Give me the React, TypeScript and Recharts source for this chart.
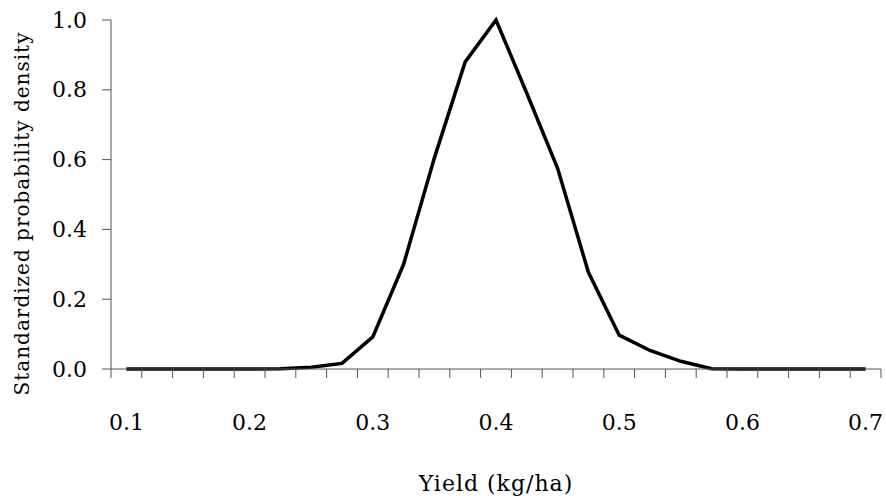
import { LineChart, Line, XAxis, YAxis, Label, ReferenceLine } from 'recharts';

// Yield categories (kg/ha), one every 0.025
const yieldValues = [
  0.1, 0.125, 0.15, 0.175, 0.2, 0.225, 0.25, 0.275, 0.3, 0.325, 0.35, 0.375, 0.4,
  0.425, 0.45, 0.475, 0.5, 0.525, 0.55, 0.575, 0.6, 0.625, 0.65, 0.675, 0.7,
];

// Standardized probability density
const densityValues = [
  0, 0, 0, 0, 0, 0.001, 0.005, 0.016, 0.092, 0.3, 0.605, 0.88, 1.0,
  0.79, 0.575, 0.277, 0.097, 0.053, 0.022, 0.001, 0, 0, 0, 0, 0,
];

const xLabelTicks = [0.1, 0.2, 0.3, 0.4, 0.5, 0.6, 0.7];
const yTicks = [0, 0.2, 0.4, 0.6, 0.8, 1.0];

const HALF_STEP = 0.0125;
// tick marks sit between the categories, like a category axis
const xMinorTicks = [...yieldValues.map(v => v - HALF_STEP), yieldValues[yieldValues.length - 1] + HALF_STEP];
const X_DOMAIN = [xMinorTicks[0], xMinorTicks[xMinorTicks.length - 1]];
// y tick marks stick out ~9px left of the axis (one category is ~30.8px wide)
const Y_TICK_DX = 0.025 * 9 / 30.8;

const data = yieldValues.map((x, i) => ({ x, density: densityValues[i] }));

const FONT = '"DejaVu Serif", serif';
const AXIS = '#555';
const TICK_LEN = 9;
const Y_GAP = 15;

const YTitle = (props: any) => {
  const vb = props.viewBox || {};
  const cx = 22;
  const cy = vb.y + vb.height / 2 + 19;
  return (
    <text
      x={cx}
      y={cy}
      transform={`rotate(-90, ${cx}, ${cy})`}
      textAnchor="middle"
      dominantBaseline="central"
      style={{ fill: '#000', fontSize: 20, fontFamily: FONT, letterSpacing: 1 }}
    >
      Standardized probability density
    </text>
  );
};

const YTick = (props: any) => (
  <text
    x={Number(props.x)}
    y={Number(props.y)}
    textAnchor="end"
    dominantBaseline="central"
    fill="#000"
    fontSize={22}
    fontFamily={FONT}
  >
    {Number(props.payload.value).toFixed(1)}
  </text>
);

export default function App() {
  return (
    <div style={{ position: 'absolute', left: 0, top: 0, width: 886, height: 498, background: '#fff' }}>
      <LineChart width={886} height={498} data={data} margin={{ top: 20, right: 5, bottom: 0, left: 0 }}>
        {/* axis line + minor tick marks, nearest the plot */}
        <XAxis
          dataKey="x"
          type="number"
          domain={X_DOMAIN}
          ticks={xMinorTicks}
          interval={0}
          tick={() => <g />}
          tickLine
          stroke={AXIS}
          tickSize={TICK_LEN}
          axisLine
          height={1}
          allowDataOverflow
        />
        {/* tick labels and title */}
        <XAxis
          xAxisId="labels"
          dataKey="x"
          type="number"
          domain={X_DOMAIN}
          ticks={xLabelTicks}
          interval={0}
          tickLine={false}
          axisLine={false}
          tickMargin={38}
          tick={{ fill: '#000', fontSize: 22, fontFamily: FONT }}
          tickFormatter={(v: number) => v.toFixed(1)}
          height={128}
          allowDataOverflow
        >
          <Label
            value="Yield (kg/ha)"
            position="insideBottom"
            offset={7}
            style={{ fill: '#000', fontSize: 22, fontFamily: FONT, letterSpacing: 1 }}
          />
        </XAxis>
        <YAxis
          domain={[0, 1]}
          ticks={yTicks}
          interval={0}
          width={111}
          tickSize={TICK_LEN}
          tickMargin={Y_GAP}
          stroke={AXIS}
          tickLine={false}
          axisLine
          tick={YTick}
        >
          <Label content={YTitle} />
        </YAxis>
        {/* outward y tick marks, drawn as short segments left of the axis */}
        {yTicks.map(v => (
          <ReferenceLine
            key={v}
            segment={[{ x: X_DOMAIN[0] - Y_TICK_DX, y: v }, { x: X_DOMAIN[0], y: v }]}
            stroke={AXIS}
            strokeWidth={1}
            ifOverflow="visible"
          />
        ))}
        <Line
          type="linear"
          dataKey="density"
          stroke="#000"
          strokeWidth={3.5}
          dot={false}
          isAnimationActive={false}
        />
      </LineChart>
    </div>
  );
}
